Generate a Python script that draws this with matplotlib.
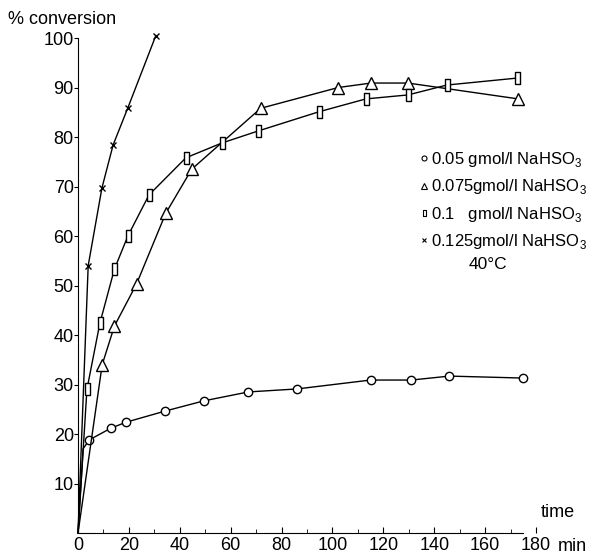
import matplotlib.pyplot as plt
from matplotlib.lines import Line2D

plt.rcParams['font.family'] = ['Liberation Sans', 'DejaVu Sans']
plt.rcParams['mathtext.fontset'] = 'custom'
plt.rcParams['mathtext.rm'] = 'Liberation Sans'

# conversion (%) vs time (min)
t_005 = [0, 2, 4.4, 13, 19, 34, 49.5, 67, 86, 115, 131, 146, 175]
c_005 = [0, 17, 18.8, 21.2, 22.4, 24.6, 26.7, 28.5, 29.1, 30.9, 30.9, 31.7, 31.3]

t_0075 = [0, 9.5, 14.3, 23, 34.5, 44.7, 71.8, 102.3, 115.2, 129.7, 173]
c_0075 = [0, 34, 41.8, 50.3, 64.6, 73.5, 85.8, 90, 90.9, 90.9, 87.7]

t_01 = [0, 3.5, 8.6, 14.3, 19.6, 27.9, 42.4, 56.6, 70.7, 94.7, 113.2, 129.7, 145, 172.5]
c_01 = [0, 29, 42.4, 53.3, 60, 68.3, 75.8, 78.8, 81.2, 85.1, 87.7, 88.5, 90.5, 91.9]

t_0125 = [0, 4, 9.4, 13.8, 19.6, 30.6]
c_0125 = [0, 54, 69.7, 78.4, 85.9, 100.5]

labels = ['0.05 gmol/l NaHSO$_\\mathrm{3}$', '0.075gmol/l NaHSO$_\\mathrm{3}$',
          '0.1   gmol/l NaHSO$_\\mathrm{3}$', '0.125gmol/l NaHSO$_\\mathrm{3}$']

xticks = list(range(0, 181, 20))
yticks = list(range(10, 101, 10))

rect = [(-0.45, -1), (0.45, -1), (0.45, 1), (-0.45, 1), (-0.45, -1)]

fig = plt.figure(figsize=(6.01, 5.54), dpi=100)
ax = fig.add_axes([0.1298, 0.0379, 0.762, 0.8935])

series = [
    (t_005, c_005, 'o', 6, 2),
    (t_0075, c_0075, '^', 8, 0),
    (t_01, c_01, rect, 8, 0),
    (t_0125, c_0125, 'x', 5, 0),
]
for t, c, m, ms, skip in series:
    ax.plot(t, c, color='black', lw=1, clip_on=False)
    ax.plot(t[1 + (skip > 0):], c[1 + (skip > 0):], linestyle='none', marker=m,
            ms=ms, mfc='white', mec='black', mew=1, clip_on=False)

ax.set_xlim(0, 180)
ax.set_ylim(0, 100)
ax.spines['top'].set_visible(False)
ax.spines['right'].set_visible(False)
ax.spines['bottom'].set_bounds(0, 175)
ax.set_xticks(xticks)
ax.set_xticks(range(10, 180, 10), minor=True)
ax.set_yticks(yticks)
ax.tick_params(direction='in', length=4, labelsize=13, pad=3)
ax.tick_params(which='minor', direction='in', length=3)
ax.tick_params(axis='y', direction='out', length=3, pad=0)

fig.text(0.013, 0.965, '% conversion', fontsize=13, va='center')
fig.text(0.9, 0.075, 'time', fontsize=13, va='center')
fig.text(0.928, 0.013, 'min', fontsize=13, va='center')

handles = [Line2D([], [], linestyle='none', marker=m, ms=ms * 0.6,
                  mfc='white', mec='black', mew=0.8)
           for _, _, m, ms, _ in series]
leg = ax.legend(handles, labels, loc='upper left', bbox_to_anchor=(0.73, 0.787),
                frameon=False, fontsize=12, handlelength=0.6, handletextpad=0.15,
                labelspacing=0.5, borderaxespad=0)
fig.text(0.78, 0.522, '40°C', fontsize=12.5, va='center')

fig.savefig('out.png', dpi=100)
